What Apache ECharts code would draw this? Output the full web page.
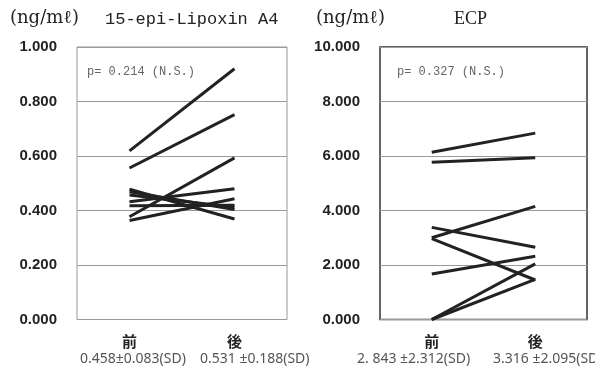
<!DOCTYPE html>
<html><head><meta charset="utf-8">
<script src="https://cdn.jsdelivr.net/npm/echarts@6/dist/echarts.min.js"></script>
<style>html,body{margin:0;padding:0;background:#fff}#c{width:595px;height:369px}</style>
</head><body><div id="c"></div>
<script>
const categories = ['前', '後'];
const lipoxinSD = ['0.458±0.083(SD)', '0.531 ±0.188(SD)'];
const ecpSD = ['2. 843 ±2.312(SD)', '3.316 ±2.095(SD)'];
const lipoxinBefore = [0.619, 0.556, 0.377, 0.478, 0.469, 0.457, 0.432, 0.417, 0.363];
const lipoxinAfter  = [0.920, 0.752, 0.593, 0.369, 0.404, 0.412, 0.480, 0.419, 0.443];
const ecpBefore = [6.14, 5.77, 3.38, 3.00, 2.97, 1.67, 0, 0];
const ecpAfter  = [6.84, 5.94, 2.65, 4.15, 1.45, 2.32, 2.04, 1.47];
const lipoxinTicks = { min: 0, max: 1, interval: 0.2 };
const ecpTicks = { min: 0, max: 10, interval: 2 };
const titles = ['15-epi-Lipoxin A4', 'ECP'];
const unitLabel = '(ng/mℓ)';
const pTexts = ['p= 0.214 (N.S.)', 'p= 0.327 (N.S.)'];

const chart = echarts.init(document.getElementById('c'), null, { renderer: 'canvas' });

function xAxis(gridIndex) {
  return {
    type: 'category', gridIndex, data: categories, boundaryGap: true,
    axisTick: { show: false },
    axisLine: { show: false },
    axisLabel: {
      margin: 14, interval: 0,
      fontSize: 15, fontWeight: 'bold', color: '#222', fontFamily: 'Noto Sans CJK JP'
    }
  };
}
function yAxis(gridIndex, t) {
  return {
    type: 'value', gridIndex, min: t.min, max: t.max, interval: t.interval,
    axisLine: { show: false }, axisTick: { show: false },
    splitLine: { show: true, lineStyle: { color: '#9a9a9a', width: 1 } },
    axisLabel: {
      margin: 20, fontSize: 15, fontWeight: 'bold', color: '#222', fontFamily: 'Liberation Sans',
      formatter: v => v.toFixed(3)
    }
  };
}
const series = [];
lipoxinBefore.forEach((b, i) => series.push({
  type: 'line', xAxisIndex: 0, yAxisIndex: 0, data: [b, lipoxinAfter[i]],
  symbol: 'none', silent: true, lineStyle: { color: '#222', width: 3 }
}));
ecpBefore.forEach((b, i) => series.push({
  type: 'line', xAxisIndex: 1, yAxisIndex: 1, data: [b, ecpAfter[i]],
  symbol: 'none', silent: true, lineStyle: { color: '#222', width: 3 }
}));

const serif = 'DejaVu Serif';
const sdFont = '14px "Noto Sans"';
const sdText = (x, t) => ({ type: 'text', left: x, top: 352, style: { text: t, font: sdFont, fill: '#555' } });
chart.setOption({
  animation: false,
  grid: [
    { left: 77, right: 308, top: 47, bottom: 49.5, show: true, borderColor: '#999', borderWidth: 1 },
    { left: 380, right: 8, top: 47, bottom: 49.5, show: true, borderColor: '#333', borderWidth: 1.5 }
  ],
  xAxis: [xAxis(0), xAxis(1)],
  yAxis: [yAxis(0, lipoxinTicks), yAxis(1, ecpTicks)],
  series,
  graphic: [
    { type: 'text', left: 10, top: 9, style: { text: unitLabel, font: '18px ' + serif, fill: '#222' } },
    { type: 'text', left: 105, top: 11, style: { text: titles[0], font: '17px "Liberation Mono"', fill: '#222' } },
    { type: 'text', left: 316, top: 9, style: { text: unitLabel, font: '18px ' + serif, fill: '#222' } },
    { type: 'text', left: 454, top: 10, style: { text: titles[1], font: '18px "Liberation Serif"', fill: '#222' } },
    { type: 'text', left: 87, top: 66, style: { text: pTexts[0], font: '12px "Liberation Mono"', fill: '#666' } },
    { type: 'text', left: 397, top: 66, style: { text: pTexts[1], font: '12px "Liberation Mono"', fill: '#666' } },
    sdText(80, lipoxinSD[0]),
    sdText(200, lipoxinSD[1]),
    sdText(357, ecpSD[0]),
    sdText(493, ecpSD[1])
  ]
});
</script></body></html>
